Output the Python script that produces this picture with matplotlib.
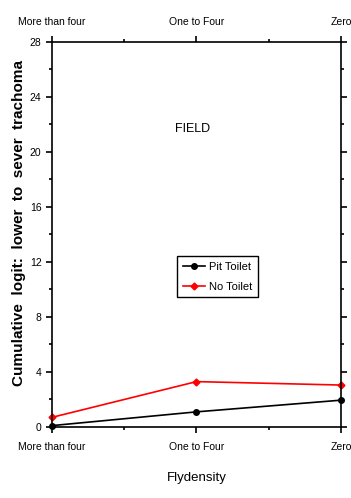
import numpy as np
import matplotlib.pyplot as plt
from matplotlib.ticker import MultipleLocator

plt.rcParams['font.family'] = ['Liberation Sans', 'DejaVu Sans']

categories = ['More than four', 'One to Four', 'Zero']
pit_toilet = [0.1, 1.1, 1.95]
no_toilet = [0.7, 3.3, 3.05]
yticks = [0, 4, 8, 12, 16, 20, 24, 28]

fig = plt.figure(figsize=(3.51, 4.98), dpi=100)
ax = fig.add_axes([0.148, 0.1426, 0.8235, 0.7731])

x = np.arange(len(categories))
ax.plot(x, pit_toilet, '-', color='black', marker='o', ms=4, lw=1.2,
        label='Pit Toilet', clip_on=False)
ax.plot(x, no_toilet, '-', color='red', marker='D', ms=3.5, lw=1.2,
        label='No Toilet', clip_on=False)

ax.set_xlim(0, 2)
ax.set_ylim(0, 28)
ax.set_xticks(x)
ax.set_xticklabels(categories, fontsize=7.5)
ax.xaxis.set_minor_locator(MultipleLocator(0.5))
ax.set_yticks(yticks)
ax.set_yticklabels([str(v) for v in yticks], fontsize=7.5)
ax.yaxis.set_minor_locator(MultipleLocator(2))

ax.tick_params(which='both', direction='out', top=True, right=True,
               labeltop=True, labelright=True, width=1.2, colors='black')
ax.tick_params(which='major', length=4)
ax.tick_params(which='minor', length=2)
ax.tick_params(axis='x', which='major', pad=7)
for s in ax.spines.values():
    s.set_linewidth(1.2)

ax.set_xlabel('Flydensity', fontsize=9.5, labelpad=14)
ax.set_ylabel('Cumulative  logit:  lower  to  sever  trachoma', fontsize=11,
              fontweight='bold')
ax.yaxis.set_label_coords(-0.09, 0.53)

ax.text(0.976, 21.7, 'FIELD', fontsize=9, ha='center', va='center')

leg = ax.legend(loc='upper left', bbox_to_anchor=(0.4325, 0.444),
                borderaxespad=0, fontsize=8, fancybox=False,
                edgecolor='black', framealpha=1, handlelength=2.0,
                borderpad=0.5, labelspacing=0.9, handletextpad=0.4)
leg.get_frame().set_linewidth(1.0)

plt.savefig('out.png', dpi=100, facecolor='w')
